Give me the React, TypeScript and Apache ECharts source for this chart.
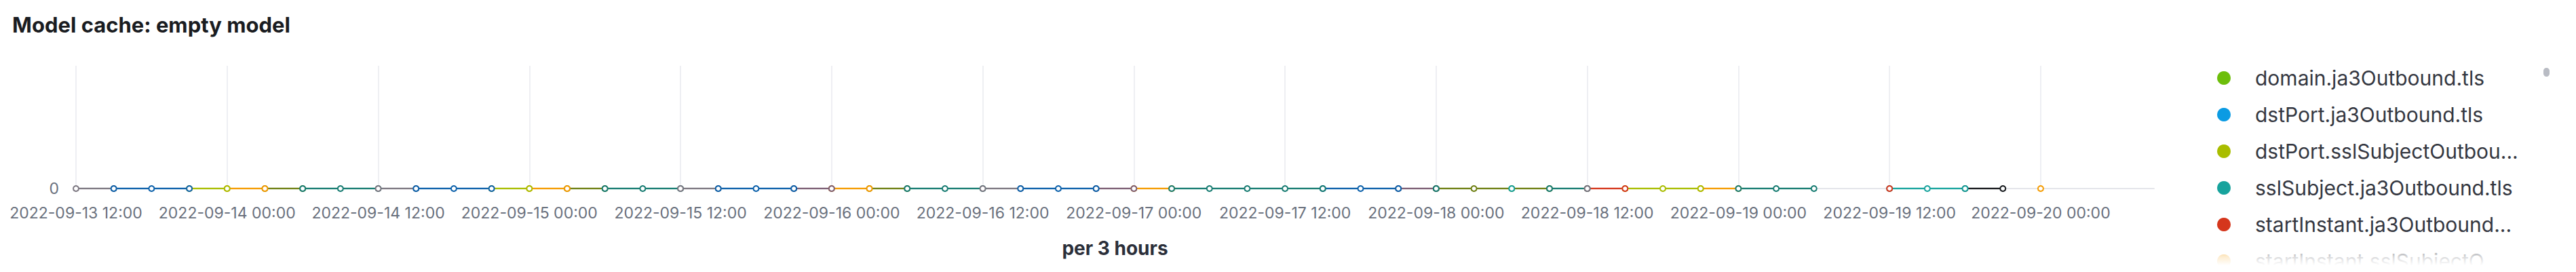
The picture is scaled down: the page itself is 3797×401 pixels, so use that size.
import { useEffect, useRef } from "react";
import * as echarts from "echarts";

// Model cache chart: every bucket holds 0, the line only shows which
// series reported in which 3-hour bucket.

const TITLE = "Model cache: empty model";
const X_NAME = "per 3 hours";

// 3-hour buckets, index 0 = 2022-09-13 12:00 UTC, last = 2022-09-20 00:00
const START = Date.UTC(2022, 8, 13, 12);
const STEP = 3 * 3600 * 1000;
const BUCKET_COUNT = 53;
const AXIS_BUCKETS = 55; // axis runs a little past the last bucket
const LABEL_EVERY = 12 * 3600 * 1000;

// Draw order is bottom -> top. Runs are [firstBucket, lastBucket].
const SERIES_NAMES = [
  "srcPort.ja3Outbound.tls",
  "srcIp.sslSubjectOutbound.tls",
  "sslSubject.ja3Outbound.tls",
  "startInstant.sslSubjectOutbound.tls",
  "dstPort.sslSubjectOutbound.tls",
  "srcIp.ja3Outbound.tls",
  "startInstant.ja3Outbound.tls",
  "domain.sslSubjectOutbound.tls",
  "dstIp.ja3Outbound.tls",
  "dstIp.sslSubjectOutbound.tls",
  "ja3.ja3Outbound.tls",
  "domain.ja3Outbound.tls",
  "dstPort.ja3Outbound.tls",
];
const SERIES_COLORS = [
  "#15181c",
  "#6e7f12",
  "#17a39d",
  "#f59b00",
  "#a9bd00",
  "#7b5d73",
  "#d5361c",
  "#167b71",
  "#7c7781",
  "#0b60aa",
  "#167b71",
  "#6dbe0b",
  "#0b9be3",
];
const SERIES_RUNS: number[][][] = [
  [[50, 51]],
  [[5, 6], [13, 14], [21, 22], [36, 39]],
  [[38, 38], [48, 50]],
  [[4, 5], [12, 13], [20, 21], [28, 29], [43, 44], [52, 52]],
  [[3, 4], [11, 12], [41, 43]],
  [[19, 20], [27, 28], [35, 36]],
  [[40, 41], [48, 48]],
  [[6, 8], [14, 16], [22, 24], [36, 36], [39, 40], [44, 46]],
  [[0, 1], [8, 9], [16, 17], [24, 25], [40, 40]],
  [[1, 3], [9, 11], [17, 19], [25, 27], [33, 35]],
  [[29, 33]],
  [],
  [],
];
const SERIES_VALUE = 0;

// Legend shows the first items of a long scrolling list.
const LEGEND_NAMES = [
  "domain.ja3Outbound.tls",
  "dstPort.ja3Outbound.tls",
  "dstPort.sslSubjectOutbound.tls",
  "sslSubject.ja3Outbound.tls",
  "startInstant.ja3Outbound.tls",
  "startInstant.sslSubjectOutbound.tls",
];
const LEGEND_MAX_CHARS = 26;
const LEGEND_KEEP_CHARS = 24;

const FONT = "Inter, 'Noto Sans', sans-serif";
const LABEL = "#69707d";
const INK = "#343741";

function pad(n: number) {
  return n < 10 ? "0" + n : String(n);
}

function fmt(v: number) {
  const d = new Date(v);
  return `${d.getUTCFullYear()}-${pad(d.getUTCMonth() + 1)}-${pad(d.getUTCDate())} ${pad(
    d.getUTCHours(),
  )}:${pad(d.getUTCMinutes())}`;
}

function shortName(name: string) {
  return name.length > LEGEND_MAX_CHARS ? name.slice(0, LEGEND_KEEP_CHARS) + "..." : name;
}

function buildData(runs: number[][]) {
  const out: (number | null)[][] = [];
  for (let i = 0; i < BUCKET_COUNT; i++) {
    const on = runs.some(([a, b]) => i >= a && i <= b);
    out.push([START + i * STEP, on ? SERIES_VALUE : null]);
  }
  return out;
}

export default function App() {
  const elRef = useRef<HTMLDivElement | null>(null);

  useEffect(() => {
    document.body.style.margin = "0";
    if (!elRef.current) return;
    const chart = echarts.init(elRef.current, undefined, { renderer: "svg" });

    const colorOf = (name: string) => SERIES_COLORS[SERIES_NAMES.indexOf(name)];

    chart.setOption({
      animation: false,
      backgroundColor: "#fff",
      textStyle: { fontFamily: FONT },
      title: {
        text: TITLE,
        left: 13,
        top: 16,
        textStyle: { fontFamily: FONT, fontSize: 31, fontWeight: "bold", color: "#1a1c21" },
      },
      legend: {
        orient: "vertical",
        left: 3263,
        top: 95,
        height: 500,
        icon: "circle",
        itemWidth: 20,
        itemHeight: 20,
        itemGap: 24,
        selectedMode: false,
        formatter: shortName,
        textStyle: {
          fontFamily: FONT,
          fontSize: 30,
          lineHeight: 30,
          color: INK,
          padding: [0, 0, 0, 31],
        },
        data: LEGEND_NAMES.map((name) => ({
          name,
          itemStyle: { color: colorOf(name), borderWidth: 0 },
        })),
      },
      graphic: [
        {
          // fade where the scrolling legend list is cut off
          type: "rect",
          shape: { x: 3250, y: 352, width: 490, height: 49 },
          style: {
            fill: new echarts.graphic.LinearGradient(0, 0, 0, 1, [
              { offset: 0, color: "rgba(255,255,255,0)" },
              { offset: 0.55, color: "rgba(255,255,255,0.82)" },
              { offset: 0.8, color: "rgba(255,255,255,1)" },
              { offset: 1, color: "rgba(255,255,255,1)" },
            ]),
          },
          z: 100,
        },
        {
          type: "rect",
          shape: { x: 3749, y: 100, width: 9, height: 13, r: 4.5 },
          style: { fill: "#b9bcc4" },
          z: 100,
        },
      ],
      grid: { left: 112, right: 622, top: 97, bottom: 123, containLabel: false },
      xAxis: {
        type: "value",
        min: START,
        max: START + AXIS_BUCKETS * STEP,
        interval: LABEL_EVERY,
        name: X_NAME,
        nameLocation: "middle",
        nameGap: 74,
        nameTextStyle: { fontFamily: FONT, fontSize: 28, fontWeight: "bold", color: "#2b2f3a" },
        axisLine: { show: true, lineStyle: { color: "#e4e5ea", width: 2 } },
        axisTick: { show: false },
        axisLabel: {
          fontFamily: FONT,
          fontSize: 23,
          color: LABEL,
          margin: 24,
          showMaxLabel: false,
          formatter: (v: number) => ((v - START) % LABEL_EVERY === 0 ? fmt(v) : ""),
        },
        splitLine: { show: true, showMaxLine: false, lineStyle: { color: "#eeeff3", width: 2 } },
      },
      yAxis: {
        type: "value",
        min: 0,
        max: 1,
        interval: 1,
        axisLine: { show: false },
        axisTick: { show: false },
        splitLine: { show: false },
        axisLabel: {
          fontFamily: FONT,
          fontSize: 23,
          color: LABEL,
          margin: 25,
          formatter: (v: number) => (v === 0 ? "0" : ""),
        },
      },
      series: SERIES_NAMES.map((name, i) => ({
        name,
        type: "line",
        data: buildData(SERIES_RUNS[i]),
        connectNulls: false,
        showSymbol: true,
        showAllSymbol: true,
        symbol: "circle",
        symbolSize: 8,
        lineStyle: { color: SERIES_COLORS[i], width: 2.5 },
        itemStyle: { color: "#fff", borderColor: SERIES_COLORS[i], borderWidth: 2 },
        emphasis: { disabled: true },
        silent: true,
      })),
    });

    return () => chart.dispose();
  }, []);

  return <div ref={elRef} style={{ width: 3797, height: 401 }} />;
}
